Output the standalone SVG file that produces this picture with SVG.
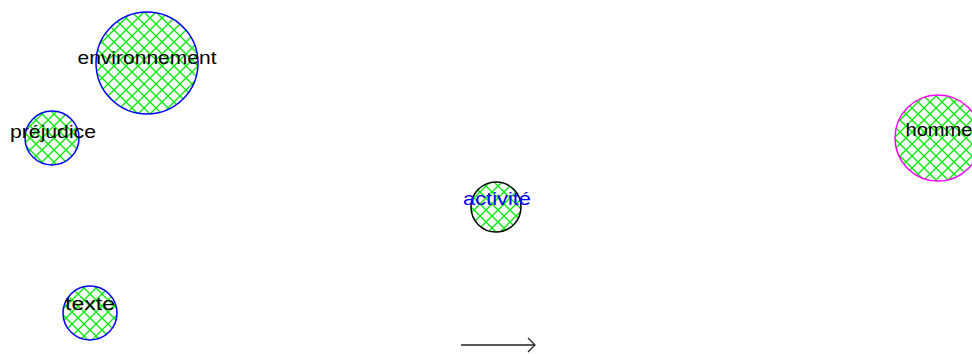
<svg xmlns="http://www.w3.org/2000/svg" width="972" height="354" viewBox="0 0 972 354">
<style>
.lbl{font-family:"Liberation Sans",Arial,sans-serif;font-size:19px;text-anchor:middle;fill:#000}
.node{fill:url(#hatch);stroke-width:1.5}
</style>
<defs>
<pattern id="hatch" patternUnits="userSpaceOnUse" width="12" height="12">
<path d="M0,0 L12,12 M12,0 L0,12" stroke="#00e600" stroke-width="1.3" fill="none"/>
</pattern>
<marker id="arr" markerWidth="14" markerHeight="16" refX="11" refY="8" orient="auto" markerUnits="userSpaceOnUse">
<path d="M4,1 L11,8 L4,15" fill="none" stroke="#222" stroke-width="1.3"/>
</marker>
</defs>
<rect width="972" height="354" fill="#fff"/>
<g id="connectors">
<line x1="461" y1="345" x2="535" y2="345" stroke="#222" stroke-width="1.4" marker-end="url(#arr)"/>
</g>
<g id="node-environnement">
<circle class="node" cx="147" cy="63" r="51" stroke="#0000ff"/>
<text class="lbl" x="147" y="64" textLength="139" lengthAdjust="spacingAndGlyphs">environnement</text>
</g>
<g id="node-prejudice">
<circle class="node" cx="52" cy="138" r="27" stroke="#0000ff"/>
<text class="lbl" x="53" y="138" textLength="86" lengthAdjust="spacingAndGlyphs">préjudice</text>
</g>
<g id="node-texte">
<circle class="node" cx="90" cy="313" r="27" stroke="#0000ff"/>
<text class="lbl" x="90" y="310" textLength="50" lengthAdjust="spacingAndGlyphs">texte</text>
</g>
<g id="node-activite">
<circle class="node" cx="496" cy="207" r="25" stroke="#000"/>
<text class="lbl" x="497" y="205" textLength="68" lengthAdjust="spacingAndGlyphs" style="fill:#0000ff">activité</text>
</g>
<g id="node-homme">
<circle class="node" cx="938" cy="138" r="43" stroke="#ff00ff"/>
<text class="lbl" x="939" y="136" textLength="67" lengthAdjust="spacingAndGlyphs">homme</text>
</g>
</svg>
